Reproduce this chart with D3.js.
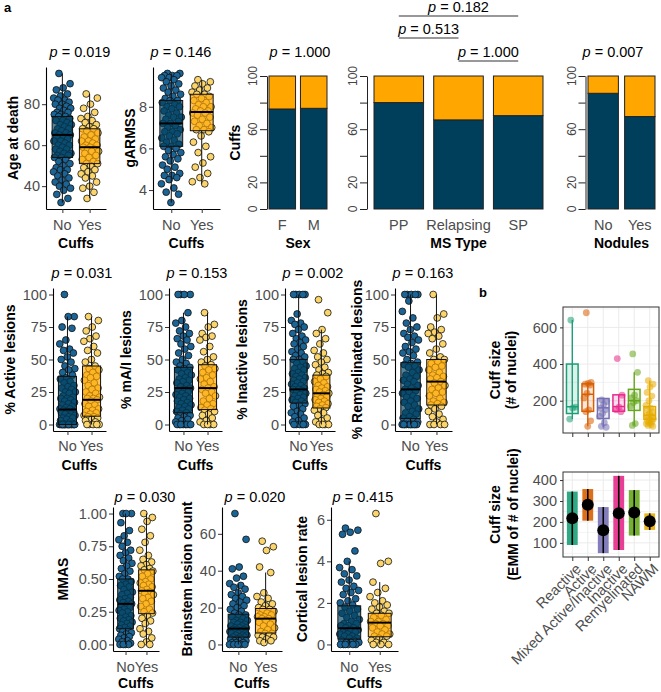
<!DOCTYPE html>
<html>
<head>
<meta charset="utf-8">
<script src="https://cdn.jsdelivr.net/npm/d3@7"></script>
<style>
body { margin: 0; background: #fff; }
svg { font-family: "Liberation Sans", Arial, sans-serif; }
.tl { font-size: 14.5px; fill: #4d4d4d; }
.ttl { font-size: 14px; font-weight: bold; fill: #000; }
</style>
</head>
<body>
<div id="main"></div>
<script>
const ctx = { WIDTH: 661, HEIGHT: 692 };

const NO_COL = "#003f5c", YES_COL = "#ffa600";
const NO_PT = "#1b6496", YES_PT = "#fbd56b";
const groups = ["No", "Yes"];

// ---- panel a, box plots: jittered values per group ----
const ageNo = [95, 90, 88, 87, 85, 84, 83, 82, 82, 81, 80, 80, 79, 78, 78, 77, 76, 76, 75, 75, 74, 74, 73, 72, 72, 71, 70, 70, 69, 68, 68, 67, 66, 66, 65, 65, 64, 64, 63, 62, 62, 61, 60, 60, 59, 58, 58, 57, 56, 56, 55, 55, 54, 54, 53, 52, 51, 50, 49, 48, 48, 47, 46, 45, 44, 43, 42, 41, 40, 39, 38, 36, 34, 32];
const ageYes = [85, 83, 80, 78, 76, 74, 73, 72, 71, 70, 69, 68, 68, 67, 66, 65, 64, 63, 62, 62, 61, 60, 60, 59, 59, 58, 58, 57, 57, 56, 55, 54, 53, 52, 51, 51, 50, 49, 48, 47, 46, 45, 44, 42, 40, 39, 37, 34];
const garmssNo = [9.6, 9.6, 9.5, 9.5, 9.5, 9.4, 9.4, 9.3, 9.2, 9.1, 9.0, 8.9, 8.8, 8.7, 8.6, 8.5, 8.4, 8.3, 8.3, 8.2, 8.1, 8.0, 8.0, 7.9, 7.8, 7.7, 7.6, 7.5, 7.5, 7.4, 7.3, 7.2, 7.2, 7.1, 7.0, 6.9, 6.8, 6.8, 6.7, 6.6, 6.5, 6.4, 6.3, 6.2, 6.1, 6.1, 6.0, 5.9, 5.8, 5.7, 5.6, 5.5, 5.4, 5.2, 5.1, 5.0, 4.8, 4.7, 4.7, 4.6, 4.5, 4.3, 4.1, 3.9, 3.8, 3.4];
const garmssYes = [9.3, 9.2, 9.1, 9.0, 8.9, 8.8, 8.7, 8.6, 8.6, 8.5, 8.4, 8.3, 8.2, 8.1, 8.0, 8.0, 7.9, 7.8, 7.8, 7.7, 7.7, 7.6, 7.5, 7.4, 7.3, 7.2, 7.1, 7.0, 6.9, 6.9, 6.8, 6.6, 6.3, 6.1, 5.8, 5.6, 5.3, 5.1, 4.8, 4.6, 4.4, 4.3];
const activeNo = [100, 83, 83, 75, 74, 65, 62, 58, 57, 55, 52, 50, 48, 45, 43, 42, 40, 38, 36, 35, 33, 32, 30, 29, 28, 27, 25, 25, 24, 22, 21, 20, 20, 19, 18, 17, 16, 15, 14, 13, 12, 12, 11, 10, 10, 9, 8, 8, 7, 6, 5, 5, 4, 3, 2, 0, 0, 0, 0, 0, 0, 0, 0, 0, 0, 0, 0, 0, 0, 0, 0, 0];
const activeYes = [83, 80, 75, 72, 68, 66, 64, 60, 57, 55, 50, 48, 45, 43, 42, 40, 38, 37, 36, 34, 32, 30, 28, 27, 25, 24, 22, 21, 20, 20, 19, 18, 16, 15, 14, 12, 11, 10, 9, 8, 7, 6, 6, 5, 4, 3, 2, 0, 0, 0, 0, 0];
const maiNo = [100, 100, 100, 100, 86, 80, 78, 75, 72, 70, 68, 66, 65, 62, 60, 58, 55, 53, 50, 48, 47, 45, 44, 43, 42, 40, 39, 38, 36, 35, 34, 33, 32, 30, 29, 28, 27, 26, 25, 24, 23, 22, 21, 20, 19, 18, 17, 16, 15, 14, 13, 12, 11, 10, 9, 8, 7, 6, 5, 4, 3, 2, 0, 0, 0, 0, 0, 0, 0, 0];
const maiYes = [86, 77, 75, 70, 68, 67, 65, 60, 56, 52, 50, 48, 46, 45, 43, 42, 40, 38, 36, 35, 33, 31, 29, 28, 27, 25, 24, 22, 20, 18, 16, 15, 13, 12, 11, 10, 8, 7, 5, 3, 2, 0, 0, 0, 0];
const inactiveNo = [100, 100, 100, 100, 100, 85, 80, 78, 77, 75, 73, 70, 68, 66, 65, 63, 62, 60, 58, 56, 55, 53, 52, 50, 50, 48, 47, 45, 44, 43, 42, 40, 39, 38, 37, 36, 35, 34, 33, 32, 31, 30, 29, 28, 27, 27, 26, 25, 24, 23, 22, 21, 20, 19, 18, 17, 16, 15, 14, 12, 10, 9, 8, 6, 5, 3, 2, 0, 0, 0, 0, 0, 0];
const inactiveYes = [96, 86, 73, 70, 66, 62, 57, 55, 52, 50, 48, 46, 44, 42, 40, 39, 38, 37, 35, 33, 32, 30, 29, 28, 27, 26, 25, 24, 23, 22, 21, 20, 19, 18, 17, 16, 15, 14, 13, 12, 11, 9, 7, 5, 3, 2, 0, 0, 0, 0];
const remyNo = [100, 100, 100, 100, 100, 95, 87, 82, 78, 75, 73, 70, 68, 67, 65, 63, 60, 58, 56, 55, 53, 50, 48, 47, 46, 45, 44, 42, 40, 38, 37, 35, 34, 33, 31, 30, 28, 27, 26, 25, 24, 22, 21, 20, 18, 17, 15, 14, 12, 10, 9, 8, 6, 5, 4, 3, 2, 0, 0, 0, 0, 0, 0, 0, 0, 0, 0, 0];
const remyYes = [100, 85, 82, 75, 73, 71, 70, 68, 66, 62, 58, 55, 52, 50, 50, 48, 47, 45, 44, 42, 40, 38, 37, 36, 35, 33, 32, 30, 28, 27, 25, 24, 22, 20, 18, 17, 16, 15, 14, 12, 10, 8, 6, 4, 2, 0, 0, 0, 0];
const mmasNo = [1.00, 1.00, 1.00, 0.93, 0.87, 0.83, 0.80, 0.78, 0.75, 0.72, 0.70, 0.68, 0.66, 0.64, 0.62, 0.60, 0.58, 0.56, 0.54, 0.52, 0.50, 0.50, 0.48, 0.46, 0.45, 0.44, 0.42, 0.40, 0.39, 0.38, 0.36, 0.35, 0.34, 0.33, 0.32, 0.31, 0.30, 0.29, 0.28, 0.27, 0.26, 0.25, 0.24, 0.22, 0.21, 0.20, 0.19, 0.18, 0.17, 0.16, 0.15, 0.14, 0.13, 0.12, 0.11, 0.10, 0.09, 0.08, 0.07, 0.06, 0.05, 0.04, 0.03, 0.02, 0.01, 0.00, 0.00, 0.00, 0.00];
const mmasYes = [1.00, 0.97, 0.94, 0.88, 0.83, 0.78, 0.72, 0.68, 0.65, 0.63, 0.61, 0.60, 0.58, 0.57, 0.56, 0.54, 0.52, 0.50, 0.48, 0.47, 0.46, 0.45, 0.44, 0.42, 0.41, 0.40, 0.39, 0.38, 0.36, 0.35, 0.33, 0.31, 0.29, 0.27, 0.25, 0.24, 0.22, 0.20, 0.18, 0.16, 0.12, 0.10, 0.08, 0.05, 0.02, 0.00, 0.00];
const brainNo = [71, 57, 42, 41, 37, 36, 33, 32, 31, 30, 28, 27, 26, 25, 24, 23, 22, 21, 20, 19, 18, 17, 16, 16, 15, 14, 13, 13, 12, 12, 11, 11, 10, 10, 9, 9, 9, 8, 8, 8, 7, 7, 7, 6, 6, 6, 5, 5, 5, 4, 4, 4, 3, 3, 3, 2, 2, 2, 1, 1, 1, 0, 0, 0, 0, 0];
const brainYes = [56, 53, 51, 42, 39, 28, 26, 25, 23, 22, 21, 20, 19, 19, 18, 17, 16, 16, 15, 15, 14, 14, 13, 13, 12, 11, 10, 9, 8, 7, 6, 6, 5, 5, 4, 4, 3, 2, 2, 1];
const cortNo = [5.6, 5.5, 5.4, 5.3, 4.5, 4.0, 3.7, 3.6, 3.4, 3.3, 3.1, 3.0, 2.8, 2.7, 2.6, 2.5, 2.4, 2.2, 2.1, 2.0, 1.9, 1.8, 1.7, 1.6, 1.5, 1.4, 1.3, 1.2, 1.1, 1.0, 1.0, 0.9, 0.9, 0.8, 0.8, 0.7, 0.7, 0.6, 0.6, 0.5, 0.5, 0.4, 0.4, 0.3, 0.3, 0.2, 0.2, 0.1, 0.1, 0.1, 0.0, 0.0, 0.0, 0.0, 0.0, 0.0];
const cortYes = [6.3, 4.0, 3.9, 3.0, 2.7, 2.5, 2.3, 2.1, 2.0, 1.9, 1.8, 1.7, 1.6, 1.5, 1.5, 1.4, 1.3, 1.2, 1.1, 1.1, 1.0, 1.0, 0.9, 0.9, 0.8, 0.7, 0.6, 0.5, 0.5, 0.4, 0.4, 0.3, 0.2, 0.1, 0.1, 0.0, 0.0, 0.0];

// box stats: [lower whisker, Q1, median, Q3, upper whisker]
const ageBox = { No: [32, 54, 65, 74, 95], Yes: [34, 51, 59, 68, 85] };
const garmssBox = { No: [3.4, 6.1, 7.2, 8.3, 9.6], Yes: [4.3, 6.85, 7.75, 8.6, 9.3] };
const activeBox = { No: [0, 0, 11.5, 37, 83], Yes: [0, 6.4, 19, 45, 83] };
const maiBox = { No: [0, 9, 28, 44, 86], Yes: [0, 11.5, 28, 46, 86] };
const inactiveBox = { No: [0, 16.5, 27, 50, 100], Yes: [0, 12.7, 24, 38, 73] };
const remyBox = { No: [0, 4.6, 27, 47.6, 100], Yes: [0, 15, 33, 50, 100] };
const mmasBox = { No: [0, 0.12, 0.31, 0.50, 1.00], Yes: [0, 0.235, 0.41, 0.57, 1.00] };
const brainBox = { No: [0, 4, 8.6, 16.4, 33], Yes: [1, 6.2, 14, 19.5, 39] };
const cortBox = { No: [0, 0.26, 0.78, 1.86, 4.0], Yes: [0, 0.37, 1.05, 1.5, 3.0] };

// tick labels
const ageTicks = [40, 60, 80];
const garmssTicks = [4, 6, 8];
const pctTicks = [0, 25, 50, 75, 100];
const mmasTicks = [0, 0.25, 0.5, 0.75, 1];
const brainTicks = [0, 20, 40, 60];
const cortTicks = [0, 2, 4, 6];

// ---- panel a, stacked bars: % without cuffs (rest = with cuffs) ----
const sexCats = ["F", "M"];
const sexNoPct = [75.2, 75.7];
const msCats = ["PP", "Relapsing", "SP"];
const msNoPct = [80, 67, 70.2];
const nodCats = ["No", "Yes"];
const nodNoPct = [87, 69.5];
const barTicks = [0, 20, 40, 60, 80, 100];
const barLabels = [0, 20, 60, 100];
const msPairs = [["PP", "SP", "0.182"], ["PP", "Relapsing", "0.513"], ["Relapsing", "SP", "1.000"]];

// ---- panel b ----
const lesionTypes = ["Reactive", "Active", "Mixed Active/Inactive", "Inactive", "Remyelinated", "NAWM"];
const lesionCols = ["#1b9e77", "#d95f02", "#7570b3", "#e7298a", "#66a61e", "#e6ab02"];
const cuffPts = [
  [640, 165, 160, 100],
  [680, 300, 295, 290, 285, 240, 215, 150, 140, 90, 60],
  [205, 195, 180, 160, 150, 130, 115, 80, 60, 55],
  [430, 230, 165, 150, 140],
  [455, 355, 230, 215, 200, 190, 170, 75, 65],
  [310, 290, 275, 245, 225, 200, 175, 160, 150, 140, 130, 120, 115, 110, 100, 95, 90, 85, 80, 75, 70, 65, 60]
];
const cuffBox = [
  [100, 130, 167, 400, 640],
  [60, 142, 235, 292, 300],
  [55, 103, 161, 212, 212],
  [140, 142, 168, 232, 232],
  [65, 147, 200, 262, 355],
  [60, 98, 121, 168, 310]
];
const cuffTicks = [200, 400, 600];
const emmEst = [218, 282, 160, 242, 245, 203];
const emmLo = [90, 206, 51, 66, 135, 162];
const emmHi = [345, 357, 271, 420, 352, 241];
const emmTicks = [100, 200, 300, 400];

const rows = {
  top: { y0: 67, y1: 209, pY: 57, tickY: 230, titleY: 248 },
  mid: { y0: 288, y1: 431, pY: 278, tickY: 451, titleY: 470 },
  bot: { y0: 507, y1: 651, pY: 502, tickY: 672, titleY: 688 }
};

const boxPanels = [
  { name: "Age at death", no: ageNo, yes: ageYes, box: ageBox, ticks: ageTicks, fmt: d3.format("d"), p: "0.019", row: "top", x0: 46, x1: 106, px: 80, tx: 18 },
  { name: "gARMSS", no: garmssNo, yes: garmssYes, box: garmssBox, ticks: garmssTicks, fmt: d3.format("d"), p: "0.146", row: "top", x0: 153, x1: 220, px: 181, tx: 135 },
  { name: "% Active lesions", no: activeNo, yes: activeYes, box: activeBox, ticks: pctTicks, fmt: d3.format("d"), p: "0.031", row: "mid", x0: 53, x1: 106, px: 82, tx: 15 },
  { name: "% mA/I lesions", no: maiNo, yes: maiYes, box: maiBox, ticks: pctTicks, fmt: d3.format("d"), p: "0.153", row: "mid", x0: 169, x1: 222, px: 197, tx: 131 },
  { name: "% Inactive lesions", no: inactiveNo, yes: inactiveYes, box: inactiveBox, ticks: pctTicks, fmt: d3.format("d"), p: "0.002", row: "mid", x0: 285, x1: 335, px: 313, tx: 247 },
  { name: "% Remyelinated lesions", no: remyNo, yes: remyYes, box: remyBox, ticks: pctTicks, fmt: d3.format("d"), p: "0.163", row: "mid", x0: 395, x1: 452, px: 423, tx: 362 },
  { name: "MMAS", no: mmasNo, yes: mmasYes, box: mmasBox, ticks: mmasTicks, fmt: d3.format(".2f"), p: "0.030", row: "bot", x0: 113, x1: 159, px: 145, tx: 68 },
  { name: "Brainstem lesion count", no: brainNo, yes: brainYes, box: brainBox, ticks: brainTicks, fmt: d3.format("d"), p: "0.020", row: "bot", x0: 222, x1: 282, px: 255, tx: 192 },
  { name: "Cortical lesion rate", no: cortNo, yes: cortYes, box: cortBox, ticks: cortTicks, fmt: d3.format("d"), p: "0.415", row: "bot", x0: 331, x1: 398, px: 363, tx: 307 }
];

// deterministic spread in [-1, 1] so points of equal value don't stack
function jit(i) { return ((i * 0.6180339887 + 0.31) % 1) * 2 - 1; }

function styleAxis(a) {
  a.attr("font-family", null).attr("font-size", null);
  a.select(".domain").attr("stroke", "#000").attr("stroke-width", 1.1);
  a.selectAll(".tick line").attr("stroke", "#333");
  a.selectAll(".tick text").attr("class", "tl").attr("fill", "#4d4d4d");
}

function pText(g, x, y, val) {
  const t = g.append("text").attr("x", x).attr("y", y).attr("text-anchor", "middle").style("font-size", "14.5px");
  t.append("tspan").style("font-style", "italic").text("p");
  t.append("tspan").text(" = " + val);
}

function rotTitle(g, x, y, lines) {
  lines.forEach((s, i) => {
    g.append("text").attr("class", "ttl")
      .attr("transform", `translate(${x[i]},${y}) rotate(-90)`)
      .attr("text-anchor", "middle").text(s);
  });
}

function drawBoxPanel(svg, cfg) {
  const row = rows[cfg.row];
  const g = svg.append("g");
  const ext = d3.extent(cfg.no.concat(cfg.yes));
  const pad = (ext[1] - ext[0]) * 0.05;
  const y = d3.scaleLinear().domain([ext[0] - pad, ext[1] + pad]).range([row.y1, row.y0]);
  const x = d3.scalePoint().domain(groups).range([cfg.x0, cfg.x1]).padding(0.6);
  const step = x.step(), bw = step * 0.75, jw = step * 0.33;

  styleAxis(g.append("g").attr("transform", `translate(${cfg.x0},0)`)
    .call(d3.axisLeft(y).tickValues(cfg.ticks).tickFormat(cfg.fmt).tickSize(4).tickSizeOuter(0).tickPadding(2)));
  styleAxis(g.append("g").attr("transform", `translate(0,${row.y1})`)
    .call(d3.axisBottom(x).tickSize(4).tickSizeOuter(0).tickFormat("")));

  groups.forEach(k => g.append("text").attr("class", "tl").attr("x", x(k)).attr("y", row.tickY)
    .attr("text-anchor", "middle").text(k));
  g.append("text").attr("class", "ttl").attr("x", (cfg.x0 + cfg.x1) / 2).attr("y", row.titleY)
    .attr("text-anchor", "middle").text("Cuffs");
  rotTitle(g, [cfg.tx], (row.y0 + row.y1) / 2, [cfg.name]);
  pText(g, cfg.px, row.pY, cfg.p);

  [[cfg.no, "No", NO_PT], [cfg.yes, "Yes", YES_PT]].forEach(([vals, k, col]) => {
    g.append("g").selectAll("circle").data(vals).join("circle")
      .attr("cx", (d, i) => x(k) + jit(i) * jw)
      .attr("cy", d => y(d))
      .attr("r", 3.4)
      .attr("fill", col)
      .attr("stroke", "#111")
      .attr("stroke-width", 0.8);
  });

  groups.forEach(k => {
    const b = cfg.box[k], cx = x(k);
    const bg = g.append("g");
    bg.append("line").attr("x1", cx).attr("x2", cx).attr("y1", y(b[0])).attr("y2", y(b[1])).attr("stroke", "#111");
    bg.append("line").attr("x1", cx).attr("x2", cx).attr("y1", y(b[3])).attr("y2", y(b[4])).attr("stroke", "#111");
    bg.append("rect").attr("x", cx - bw / 2).attr("width", bw)
      .attr("y", y(b[3])).attr("height", Math.max(0.5, y(b[1]) - y(b[3])))
      .attr("fill", k === "No" ? NO_COL : YES_COL).attr("fill-opacity", 0.65)
      .attr("stroke", "#111").attr("stroke-width", 1);
    bg.append("line").attr("x1", cx - bw / 2).attr("x2", cx + bw / 2)
      .attr("y1", y(b[2])).attr("y2", y(b[2])).attr("stroke", "#000").attr("stroke-width", 2);
  });
}

function drawBarPanel(svg, cfg) {
  const row = rows.top;
  const g = svg.append("g");
  const x = d3.scaleBand().domain(cfg.cats).range([cfg.b0, cfg.b1]).paddingInner(cfg.pin).paddingOuter(0);
  const y = d3.scaleLinear().domain([0, 100]).range([209, 76]);

  const ax = g.append("g").attr("transform", `translate(${cfg.ax},0)`)
    .call(d3.axisLeft(y).tickValues(barTicks).tickSize(7).tickSizeOuter(0).tickFormat(""));
  ax.select(".domain").attr("stroke", "#222");
  ax.selectAll(".tick line").attr("stroke", "#222");
  barLabels.forEach(v => g.append("text")
    .attr("transform", `translate(${cfg.ax - 10},${y(v)}) rotate(-90)`)
    .attr("text-anchor", "middle").style("font-size", "12px").attr("fill", "#444").text(v));

  cfg.cats.forEach((c, i) => {
    const v = cfg.noPct[i];
    g.append("rect").attr("x", x(c)).attr("width", x.bandwidth()).attr("y", y(v)).attr("height", y(0) - y(v))
      .attr("fill", NO_COL).attr("stroke", "#222").attr("stroke-width", 1);
    g.append("rect").attr("x", x(c)).attr("width", x.bandwidth()).attr("y", y(100)).attr("height", y(v) - y(100))
      .attr("fill", YES_COL).attr("stroke", "#222").attr("stroke-width", 1);
    g.append("text").attr("class", "tl").attr("x", x(c) + x.bandwidth() / 2).attr("y", row.tickY)
      .attr("text-anchor", "middle").text(c);
  });
  g.append("text").attr("class", "ttl").attr("x", (cfg.b0 + cfg.b1) / 2).attr("y", row.titleY)
    .attr("text-anchor", "middle").text(cfg.title);
  if (cfg.yTitle) rotTitle(g, [240], (76 + 209) / 2, [cfg.yTitle]);
  return x;
}

function drawPanelB(svg) {
  const g = svg.append("g");
  const X0 = 563, X1 = 659;
  const x = d3.scalePoint().domain(lesionTypes).range([X0, X1]).padding(0.6);
  const step = x.step();

  function frame(y, top, bot, ticks) {
    const half = (ticks[1] - ticks[0]) / 2;
    const minor = ticks.map(t => t - half).concat([ticks[ticks.length - 1] + half]);
    minor.concat(ticks).filter(t => y(t) > top && y(t) < bot).forEach(t => {
      g.append("line").attr("x1", X0).attr("x2", X1).attr("y1", y(t)).attr("y2", y(t))
        .attr("stroke", "#ebebeb").attr("stroke-width", ticks.includes(t) ? 1 : 0.6);
    });
    lesionTypes.forEach(c => g.append("line").attr("x1", x(c)).attr("x2", x(c)).attr("y1", top).attr("y2", bot)
      .attr("stroke", "#ebebeb").attr("stroke-width", 1));
    const ax = g.append("g").attr("transform", `translate(${X0},0)`)
      .call(d3.axisLeft(y).tickValues(ticks).tickSize(3).tickSizeOuter(0).tickPadding(3));
    styleAxis(ax);
    ax.select(".domain").remove();
    const bx = g.append("g").attr("transform", `translate(0,${bot})`)
      .call(d3.axisBottom(x).tickSize(4).tickSizeOuter(0).tickFormat(""));
    styleAxis(bx);
    bx.select(".domain").remove();
  }

  // cuff size
  const t1 = 307, b1 = 433;
  const all1 = cuffPts.flat().concat(cuffBox.flat());
  const e1 = d3.extent(all1), p1 = (e1[1] - e1[0]) * 0.05;
  const y1 = d3.scaleLinear().domain([e1[0] - p1, e1[1] + p1]).range([b1, t1]);
  frame(y1, t1, b1, cuffTicks);
  lesionTypes.forEach((c, i) => {
    const cx = x(c), b = cuffBox[i], col = lesionCols[i], bw = step * 0.75;
    g.append("line").attr("x1", cx).attr("x2", cx).attr("y1", y1(b[0])).attr("y2", y1(b[4]))
      .attr("stroke", col).attr("stroke-width", 1.4);
    g.append("rect").attr("x", cx - bw / 2).attr("width", bw).attr("y", y1(b[3])).attr("height", y1(b[1]) - y1(b[3]))
      .attr("fill", col).attr("fill-opacity", 0.15).attr("stroke", col).attr("stroke-width", 1.5);
    g.append("line").attr("x1", cx - bw / 2).attr("x2", cx + bw / 2).attr("y1", y1(b[2])).attr("y2", y1(b[2]))
      .attr("stroke", col).attr("stroke-width", 1.5);
    g.append("g").selectAll("circle").data(cuffPts[i]).join("circle")
      .attr("cx", (d, j) => cx + jit(j) * step * 0.25).attr("cy", d => y1(d)).attr("r", 3.4)
      .attr("fill", col).attr("fill-opacity", 0.55);
  });
  g.append("rect").attr("x", X0).attr("y", t1).attr("width", X1 - X0).attr("height", b1 - t1)
    .attr("fill", "none").attr("stroke", "#333").attr("stroke-width", 1);
  rotTitle(g, [500, 516], (t1 + b1) / 2, ["Cuff size", "(# of nuclei)"]);

  // EMM
  const t2 = 472, b2 = 557;
  const e2 = [d3.min(emmLo), d3.max(emmHi)], p2 = (e2[1] - e2[0]) * 0.05;
  const y2 = d3.scaleLinear().domain([e2[0] - p2, e2[1] + p2]).range([b2, t2]);
  frame(y2, t2, b2, emmTicks);
  lesionTypes.forEach((c, i) => {
    const cx = x(c), bw = step * 0.7;
    g.append("rect").attr("x", cx - bw / 2).attr("width", bw).attr("y", y2(emmHi[i])).attr("height", y2(emmLo[i]) - y2(emmHi[i]))
      .attr("fill", lesionCols[i]).attr("fill-opacity", 0.9);
    g.append("line").attr("x1", cx).attr("x2", cx).attr("y1", y2(emmLo[i])).attr("y2", y2(emmHi[i]))
      .attr("stroke", "#000").attr("stroke-width", 1.6);
    g.append("circle").attr("cx", cx).attr("cy", y2(emmEst[i])).attr("r", 6).attr("fill", "#000");
    g.append("text").attr("class", "tl")
      .attr("transform", `translate(${cx + 2},${b2 + 5}) rotate(-45)`)
      .attr("text-anchor", "end").attr("dy", "0.75em").text(c);
  });
  g.append("rect").attr("x", X0).attr("y", t2).attr("width", X1 - X0).attr("height", b2 - t2)
    .attr("fill", "none").attr("stroke", "#333").attr("stroke-width", 1);
  rotTitle(g, [500, 518], (t2 + b2) / 2, ["Cuff size", "(EMM of # of nuclei)"]);

  g.append("text").attr("x", 479).attr("y", 297).style("font-size", "13px").style("font-weight", "bold").text("b");
}

function createViz() {
  const svg = d3.select("#main").append("svg").attr("width", ctx.WIDTH).attr("height", ctx.HEIGHT);
  svg.append("text").attr("x", 4).attr("y", 12).style("font-size", "13px").style("font-weight", "bold").text("a");

  boxPanels.forEach(cfg => drawBoxPanel(svg, cfg));

  drawBarPanel(svg, { cats: sexCats, noPct: sexNoPct, b0: 269, b1: 327, pin: 0.156, ax: 267, title: "Sex", yTitle: "Cuffs" });
  const xms = drawBarPanel(svg, { cats: msCats, noPct: msNoPct, b0: 374, b1: 543, pin: 0.17, ax: 367, title: "MS Type" });
  drawBarPanel(svg, { cats: nodCats, noPct: nodNoPct, b0: 588, b1: 655, pin: 0.17, ax: 585.5, title: "Nodules" });
  pText(svg, 300, 57, "1.000");
  pText(svg, 613, 57, "0.007");

  // MS type pairwise brackets
  const levels = [16, 38, 61];
  msPairs.forEach((pr, i) => {
    const xa = xms(pr[0]) + xms.bandwidth() / 2, xb = xms(pr[1]) + xms.bandwidth() / 2;
    svg.append("line").attr("x1", xa).attr("x2", xb).attr("y1", levels[i]).attr("y2", levels[i])
      .attr("stroke", "#333").attr("stroke-width", 1.1);
    pText(svg, (xa + xb) / 2, levels[i] - 4, pr[2]);
  });

  drawPanelB(svg);
}

createViz();
</script>
</body>
</html>
